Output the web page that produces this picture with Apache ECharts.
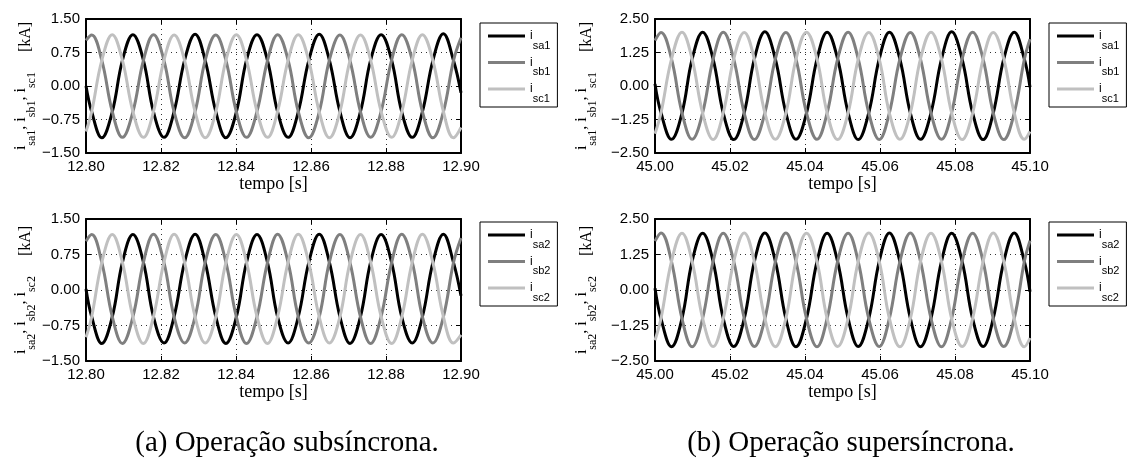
<!DOCTYPE html>
<html><head><meta charset="utf-8">
<script src="https://cdn.jsdelivr.net/npm/echarts@6/dist/echarts.min.js"></script>
<style>html,body{margin:0;padding:0;background:#fff}#c{width:1129px;height:469px}</style>
</head><body><div id="c"></div>
<script>
// ---- tick labels ----
const xTicksSub = [12.80, 12.82, 12.84, 12.86, 12.88, 12.90];
const xTicksSuper = [45.00, 45.02, 45.04, 45.06, 45.08, 45.10];
const yTicksSub = [-1.50, -0.75, 0.00, 0.75, 1.50];
const yTicksSuper = [-2.50, -1.25, 0.00, 1.25, 2.50];

// ---- series names / captions ----
const namesTop = ['sa1', 'sb1', 'sc1'];
const namesBottom = ['sa2', 'sb2', 'sc2'];
const captionA = '(a) Operação subsíncrona.';
const captionB = '(b) Operação supersíncrona.';

// ---- time samples [s] ----
const timeSub = [12.8000, 12.8015, 12.8042, 12.8070, 12.8097, 12.8125, 12.8153, 12.8180, 12.8208, 12.8235, 12.8263, 12.8291, 12.8318, 12.8346, 12.8373, 12.8401, 12.8428, 12.8456, 12.8484, 12.8511, 12.8539, 12.8566, 12.8594, 12.8622, 12.8649, 12.8677, 12.8704, 12.8732, 12.8759, 12.8787, 12.8815, 12.8842, 12.8870, 12.8897, 12.8925, 12.8953, 12.8980, 12.9000];
const timeSuper = [45.0000, 45.0016, 45.0044, 45.0072, 45.0099, 45.0127, 45.0155, 45.0182, 45.0210, 45.0238, 45.0265, 45.0293, 45.0321, 45.0349, 45.0376, 45.0404, 45.0432, 45.0459, 45.0487, 45.0515, 45.0542, 45.0570, 45.0598, 45.0625, 45.0653, 45.0681, 45.0708, 45.0736, 45.0764, 45.0791, 45.0819, 45.0847, 45.0875, 45.0902, 45.0930, 45.0958, 45.0985, 45.1000];

// ---- currents [kA], subsynchronous ----
const isa1Sub = [0.00,
 -0.57, -1.16, -0.58, 0.57, 1.15, 0.58,
 -0.58, -1.15, -0.57, 0.58, 1.16, 0.57,
 -0.57, -1.16, -0.58, 0.58, 1.15, 0.57,
 -0.58, -1.15, -0.58, 0.57, 1.16, 0.58,
 -0.57, -1.16, -0.57, 0.58, 1.15, 0.58,
 -0.58, -1.15, -0.58, 0.57, 1.17, 0.57,
 -0.15];
const isb1Sub = [1.02,
 1.14, 0.58, -0.57, -1.15, -0.58, 0.57,
 1.15, 0.57, -0.58, -1.16, -0.57, 0.58,
 1.14, 0.58, -0.58, -1.15, -0.57, 0.57,
 1.15, 0.58, -0.57, -1.16, -0.58, 0.58,
 1.14, 0.57, -0.58, -1.15, -0.57, 0.58,
 1.15, 0.58, -0.57, -1.16, -0.58, 0.57,
 1.08];
const isc1Sub = [-1.02,
 -0.58, 0.57, 1.15, 0.58, -0.57, -1.15,
 -0.57, 0.58, 1.14, 0.57, -0.58, -1.16,
 -0.58, 0.57, 1.15, 0.58, -0.57, -1.15,
 -0.57, 0.58, 1.15, 0.57, -0.58, -1.16,
 -0.58, 0.57, 1.14, 0.58, -0.57, -1.15,
 -0.58, 0.58, 1.15, 0.57, -0.57, -1.16,
 -0.93];
const isa2Sub = [0.02,
 -0.56, -1.13, -0.57, 0.58, 1.17, 0.59,
 -0.57, -1.12, -0.56, 0.59, 1.18, 0.58,
 -0.56, -1.13, -0.57, 0.58, 1.17, 0.58,
 -0.57, -1.12, -0.57, 0.58, 1.18, 0.59,
 -0.56, -1.13, -0.56, 0.59, 1.17, 0.58,
 -0.57, -1.12, -0.57, 0.58, 1.18, 0.58,
 -0.12];
const isb2Sub = [1.03,
 1.17, 0.59, -0.56, -1.13, -0.57, 0.58,
 1.18, 0.58, -0.57, -1.12, -0.56, 0.59,
 1.17, 0.59, -0.57, -1.13, -0.56, 0.58,
 1.18, 0.58, -0.56, -1.12, -0.57, 0.59,
 1.17, 0.58, -0.57, -1.13, -0.56, 0.58,
 1.18, 0.59, -0.56, -1.12, -0.57, 0.58,
 1.10];
const isc2Sub = [-1.00,
 -0.57, 0.58, 1.17, 0.59, -0.56, -1.13,
 -0.56, 0.59, 1.18, 0.58, -0.57, -1.12,
 -0.57, 0.58, 1.17, 0.59, -0.56, -1.13,
 -0.56, 0.59, 1.18, 0.58, -0.57, -1.12,
 -0.57, 0.58, 1.17, 0.59, -0.56, -1.13,
 -0.57, 0.59, 1.18, 0.58, -0.56, -1.12,
 -0.95];

// ---- currents [kA], supersynchronous ----
const isa1Super = [0.08,
 -1.00, -1.99, -1.01, 1.00, 2.01, 1.00,
 -1.01, -2.00, -1.00, 1.01, 2.02, 1.00,
 -1.00, -1.99, -1.01, 1.00, 2.01, 1.01,
 -1.00, -2.00, -1.00, 1.01, 2.01, 1.00,
 -1.01, -1.99, -1.00, 1.00, 2.02, 1.00,
 -1.00, -2.00, -1.01, 1.01, 2.01, 1.00,
 -0.05];
const isb1Super = [1.70,
 2.00, 1.01, -1.00, -1.99, -1.00, 1.00,
 2.01, 1.00, -1.01, -2.00, -1.00, 1.01,
 2.00, 1.00, -1.00, -1.99, -1.01, 1.00,
 2.01, 1.01, -1.00, -2.00, -1.00, 1.00,
 2.00, 1.00, -1.01, -1.99, -1.00, 1.01,
 2.01, 1.00, -1.00, -2.00, -1.01, 1.00,
 1.75];
const isc1Super = [-1.78,
 -1.00, 1.00, 2.01, 1.00, -1.01, -2.00,
 -1.00, 1.01, 2.00, 1.00, -1.00, -1.99,
 -1.01, 1.00, 2.01, 1.01, -1.00, -2.00,
 -1.00, 1.00, 2.00, 1.00, -1.01, -1.99,
 -1.00, 1.01, 2.01, 1.00, -1.00, -2.00,
 -1.01, 1.00, 2.00, 1.01, -1.00, -1.99,
 -1.70];
const isa2Super = [0.06,
 -1.01, -2.00, -1.00, 1.01, 2.00, 1.00,
 -1.00, -1.99, -1.01, 1.00, 2.01, 1.01,
 -1.01, -2.00, -1.00, 1.00, 2.00, 1.00,
 -1.00, -1.99, -1.01, 1.01, 2.01, 1.00,
 -1.00, -2.00, -1.00, 1.01, 2.00, 1.01,
 -1.01, -1.99, -1.00, 1.00, 2.01, 1.00,
 -0.06];
const isb2Super = [1.72,
 2.01, 1.00, -1.01, -2.00, -1.00, 1.01,
 2.00, 1.01, -1.00, -1.99, -1.01, 1.00,
 2.01, 1.00, -1.00, -2.00, -1.00, 1.01,
 2.00, 1.00, -1.01, -1.99, -1.00, 1.00,
 2.01, 1.01, -1.00, -2.00, -1.01, 1.00,
 2.00, 1.00, -1.01, -1.99, -1.00, 1.01,
 1.74];
const isc2Super = [-1.77,
 -1.00, 1.01, 2.00, 1.01, -1.00, -1.99,
 -1.01, 1.00, 2.01, 1.00, -1.01, -2.00,
 -1.00, 1.01, 2.00, 1.00, -1.00, -1.99,
 -1.00, 1.01, 2.01, 1.01, -1.00, -2.00,
 -1.01, 1.00, 2.00, 1.00, -1.01, -1.99,
 -1.00, 1.01, 2.01, 1.00, -1.01, -2.00,
 -1.69];

// ---- styling ----
const colors = ['#000000', '#7f7f7f', '#c0c0c0'];
const SANS = 'Liberation Sans', SERIF = 'Liberation Serif';

const panels = [
  {grid: {left: 86, top: 19, width: 375, height: 134}, t: timeSub, ys: [isa1Sub, isb1Sub, isc1Sub], names: namesTop, xt: xTicksSub, yt: yTicksSub, leg: {left: 480, top: 23}, idx: '1', ngap: 57},
  {grid: {left: 86, top: 219, width: 375, height: 142}, t: timeSub, ys: [isa2Sub, isb2Sub, isc2Sub], names: namesBottom, xt: xTicksSub, yt: yTicksSub, leg: {left: 480, top: 222}, idx: '2', ngap: 57},
  {grid: {left: 655, top: 19, width: 375, height: 134}, t: timeSuper, ys: [isa1Super, isb1Super, isc1Super], names: namesTop, xt: xTicksSuper, yt: yTicksSuper, leg: {left: 1049, top: 23}, idx: '1', ngap: 65},
  {grid: {left: 655, top: 219, width: 375, height: 142}, t: timeSuper, ys: [isa2Super, isb2Super, isc2Super], names: namesBottom, xt: xTicksSuper, yt: yTicksSuper, leg: {left: 1049, top: 222}, idx: '2', ngap: 65}
];

const yNameRich = {
  i: {fontFamily: SERIF, fontSize: 16, lineHeight: 16, verticalAlign: 'top', color: '#000'},
  s: {fontFamily: SERIF, fontSize: 12, lineHeight: 12, padding: [13, 0, 0, 0], verticalAlign: 'top', color: '#000'},
  t: {fontFamily: SERIF, fontSize: 16, lineHeight: 16, verticalAlign: 'top', color: '#000'},
  k: {fontFamily: SERIF, fontSize: 16, lineHeight: 16, padding: [5, 0, 0, 0], verticalAlign: 'top', color: '#000'},
  g: {width: 20, lineHeight: 16}
};
const legRich = {
  i: {fontFamily: SANS, fontSize: 12, lineHeight: 12, verticalAlign: 'top', color: '#000'},
  s: {fontFamily: SANS, fontSize: 11, lineHeight: 11, padding: [10, 0, 0, 0], verticalAlign: 'top', color: '#000'}
};

const fmtY = v => (v < 0 ? '\u2212' : '') + Math.abs(v).toFixed(2);

const option = {
  animation: false,
  backgroundColor: '#fff',
  grid: [], xAxis: [], yAxis: [], series: [], legend: [],
  graphic: [
    {type: 'text', x: 287, y: 443, style: {text: captionA, fill: '#000', font: '29px "Liberation Serif"', align: 'center', verticalAlign: 'middle', textAlign: 'center', textVerticalAlign: 'middle'}},
    {type: 'text', x: 851, y: 443, style: {text: captionB, fill: '#000', font: '29px "Liberation Serif"', align: 'center', verticalAlign: 'middle', textAlign: 'center', textVerticalAlign: 'middle'}}
  ]
};

panels.forEach((p, gi) => {
  option.grid.push(Object.assign({show: false, outerBoundsMode: 'none'}, p.grid));
  const xmin = p.xt[0], xmax = p.xt[p.xt.length - 1], xint = +(p.xt[1] - p.xt[0]).toFixed(4);
  const ymin = p.yt[0], ymax = p.yt[p.yt.length - 1], yint = +(p.yt[1] - p.yt[0]).toFixed(4);
  const lineAx = {show: true, onZero: false, lineStyle: {color: '#000', width: 2}};
  const tickIn = {show: true, inside: true, length: 5, lineStyle: {color: '#000', width: 1}};
  const dotted = {show: true, lineStyle: {color: '#333', width: 1, type: [1, 4]}};
  option.xAxis.push({
    type: 'value', gridIndex: gi, position: 'bottom', min: xmin, max: xmax, interval: xint,
    axisLine: lineAx, axisTick: tickIn, splitLine: dotted,
    axisLabel: {show: true, margin: 6, fontFamily: SANS, fontSize: 15, color: '#000', formatter: v => v.toFixed(2), hideOverlap: false, showMinLabel: true, showMaxLabel: true},
    name: 'tempo [s]', nameLocation: 'middle', nameGap: 22, nameMoveOverlap: false,
    nameTextStyle: {fontFamily: SERIF, fontSize: 18, color: '#000'}
  });
  option.xAxis.push({
    type: 'value', gridIndex: gi, position: 'top', min: xmin, max: xmax, interval: xint,
    axisLine: lineAx, axisTick: tickIn, splitLine: {show: false}, axisLabel: {show: false}
  });
  const k = p.idx;
  option.yAxis.push({
    type: 'value', gridIndex: gi, position: 'left', min: ymin, max: ymax, interval: yint,
    axisLine: lineAx, axisTick: tickIn, splitLine: dotted,
    axisLabel: {show: true, margin: 6, fontFamily: SANS, fontSize: 15, color: '#000', formatter: fmtY, hideOverlap: false, showMinLabel: true, showMaxLabel: true},
    name: `{i|i}{s|sa${k}}{t|, }{i|i}{s|sb${k}}{t|, }{i|i}{s|sc${k}}{g|}{k|[kA]}`,
    nameLocation: 'middle', nameRotate: 90, nameGap: p.ngap, nameMoveOverlap: false,
    nameTextStyle: {fontFamily: SERIF, fontSize: 16, color: '#000', rich: yNameRich}
  });
  option.yAxis.push({
    type: 'value', gridIndex: gi, position: 'right', min: ymin, max: ymax, interval: yint,
    axisLine: lineAx, axisTick: tickIn, splitLine: {show: false}, axisLabel: {show: false}
  });
  p.names.forEach((nm, j) => {
    option.series.push({
      type: 'line', name: nm, xAxisIndex: 2 * gi, yAxisIndex: 2 * gi,
      data: p.t.map((tt, i) => [tt, p.ys[j][i]]),
      showSymbol: false, symbol: 'none', smooth: 0.4, clip: true,
      color: colors[j], itemStyle: {color: colors[j]},
      lineStyle: {width: 3, color: colors[j]}, z: 2 + j
    });
  });
  option.legend.push({
    orient: 'vertical', left: p.leg.left, top: p.leg.top, data: p.names,
    icon: 'rect', itemWidth: 37, itemHeight: 3, itemGap: 5.5,
    padding: [7, 7, 3, 8], borderColor: '#000', borderWidth: 1, backgroundColor: '#fff',
    selectedMode: false,
    formatter: n => `{i|i}{s|${n}}`,
    textStyle: {fontFamily: SANS, fontSize: 12, color: '#000', rich: legRich}
  });
});

const chart = echarts.init(document.getElementById('c'), null, {renderer: 'canvas'});
chart.setOption(option);
</script></body></html>
